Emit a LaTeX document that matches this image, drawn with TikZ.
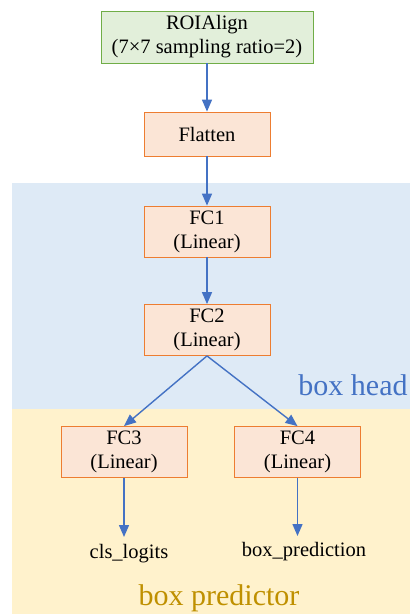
\documentclass[tikz,border=0pt]{standalone}
\usepackage{fontspec}
\setmainfont{Liberation Serif}
\usetikzlibrary{arrows.meta}
\definecolor{headfill}{HTML}{DEEAF6}
\definecolor{predfill}{HTML}{FFF2CC}
\definecolor{headtext}{HTML}{4472C4}
\definecolor{predtext}{HTML}{BF9000}
\definecolor{greenfill}{HTML}{E2EFDA}
\definecolor{greenline}{HTML}{70AD47}
\definecolor{layerfill}{HTML}{FBE5D6}
\definecolor{layerline}{HTML}{ED7D31}
\definecolor{flow}{HTML}{4472C4}
\begin{document}
\begin{tikzpicture}[x=1pt,y=-1pt,
  body/.style={font=\fontsize{20.5}{24}\selectfont},
  layer/.style={body,draw=layerline,fill=layerfill,line width=0.8pt,inner sep=0pt,
    align=center,minimum width=126pt,minimum height=51pt},
  inputbox/.style={body,draw=greenline,fill=greenfill,line width=0.8pt,inner sep=0pt,
    align=center,minimum width=212pt,minimum height=52pt},
  outtext/.style={body,inner sep=0pt,outer sep=0pt,text height=15pt},
  flowarrow/.style={draw=flow,line width=1.4pt,-{Triangle[length=12pt,width=10pt]}},
  region/.style={font=\fontsize{30}{30}\selectfont,inner sep=0pt,anchor=base}
]
\useasboundingbox (0,0) rectangle (410,614);
% background regions
\fill[headfill] (12,183) rectangle (410,409);
\fill[predfill] (12,409) rectangle (410,614);
\node[region,text=headtext] (headlabel) at (353,395) {box head};
\node[region,text=predtext] (predlabel) at (219,605) {box predictor};
% layers
\node[inputbox] (roi) at (207,37) {ROIAlign\\(7×7 sampling ratio=2)};
\node[layer,minimum height=44pt] (flat) at (207,134) {Flatten};
\node[layer] (fc1) at (207,231.5) {FC1\\(Linear)};
\node[layer] (fc2) at (207,330) {FC2\\(Linear)};
\node[layer] (fc3) at (124,452) {FC3\\(Linear)};
\node[layer] (fc4) at (297.5,452) {FC4\\(Linear)};
% outputs
\node[outtext,anchor=base] (cls) at (129,558) {cls\_logits};
\node[outtext,anchor=base] (boxp) at (304,556) {box\_prediction};
% connections
\draw[flowarrow] (roi.south) -- (flat.north);
\draw[flowarrow] (flat.south) -- (fc1.north);
\draw[flowarrow] (fc1.south) -- (fc2.north);
\draw[flowarrow] (fc2.south) -- (fc3.north);
\draw[flowarrow] (fc2.south) -- (fc4.north);
\draw[flowarrow,shorten >=6pt] (fc3.south) -- (fc3.south |- cls.north);
\draw[flowarrow,shorten >=5pt] (fc4.south) -- (fc4.south |- boxp.north);
\end{tikzpicture}
\end{document}
